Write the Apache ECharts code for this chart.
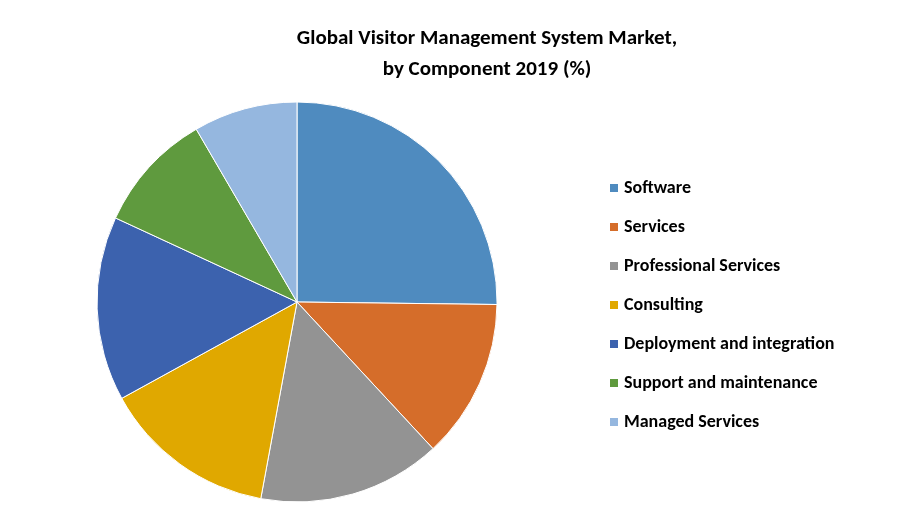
<!DOCTYPE html>
<html>
<head>
<meta charset="utf-8">
<script src="https://cdn.jsdelivr.net/npm/echarts@6/dist/echarts.min.js"></script>
<style>html,body{margin:0;background:#fff}#main{width:900px;height:525px}</style>
</head>
<body>
<div id="main"></div>
<script>
var categories = ['Software', 'Services', 'Professional Services', 'Consulting',
  'Deployment and integration', 'Support and maintenance', 'Managed Services'];
var shares = [25.2, 12.9, 14.8, 14.1, 14.9, 9.7, 8.4];
var colors = ['#4F8BBF', '#D56D2A', '#939393', '#E0A800', '#3C62AE', '#5F9A3E', '#95B7DF'];

var chart = echarts.init(document.getElementById('main'));
chart.setOption({
  animation: false,
  title: {
    text: 'Global Visitor Management System Market,\nby Component 2019 (%)',
    left: 482, top: 18, textAlign: 'center',
    textStyle: { fontFamily: 'Carlito, Lato, sans-serif', fontSize: 21, fontWeight: 'bold', color: '#000', lineHeight: 31 }
  },
  legend: {
    orient: 'vertical', left: 603, top: 174, itemGap: 21,
    icon: 'rect', itemWidth: 10, itemHeight: 10,
    textStyle: { fontFamily: 'Carlito, Lato, sans-serif', fontSize: 18, fontWeight: 'bold', color: '#000' },
    data: categories
  },
  color: colors,
  series: [{
    type: 'pie', center: [297, 302], radius: 200, startAngle: 90, clockwise: true,
    label: { show: false }, labelLine: { show: false },
    itemStyle: { borderColor: '#fff', borderWidth: 1 },
    data: categories.map(function (c, i) { return { name: c, value: shares[i] }; })
  }]
});
</script>
</body>
</html>
